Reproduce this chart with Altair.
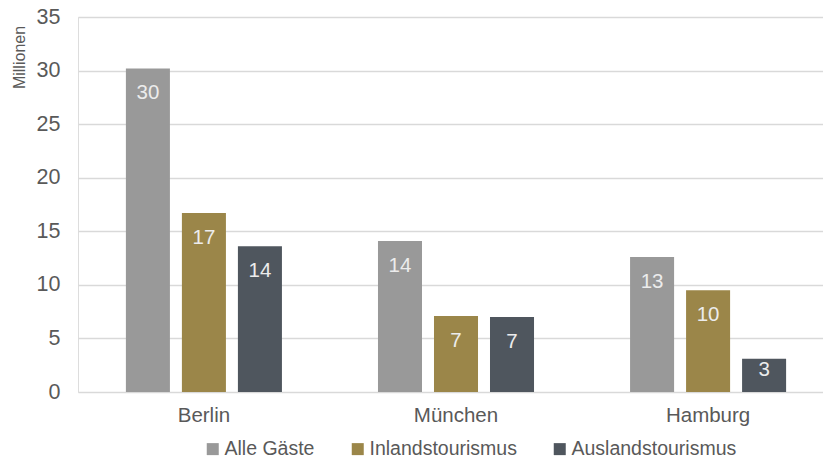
import altair as alt
import pandas as pd

cities = ["Berlin", "München", "Hamburg"]
series = ["Alle Gäste", "Inlandstourismus", "Auslandstourismus"]
alle_gaeste = [30.2, 14.1, 12.6]
inland = [16.7, 7.1, 9.5]
ausland = [13.6, 7.0, 3.1]
colors = ["#999999", "#9b8649", "#4f565e"]
y_ticks = [0, 5, 10, 15, 20, 25, 30, 35]

rows = []
for i, c in enumerate(cities):
    for s, vals in zip(series, [alle_gaeste, inland, ausland]):
        rows.append({"Stadt": c, "Serie": s, "Wert": vals[i]})
df = pd.DataFrame(rows)

FONT = "Liberation Sans"
TXT = "#595959"

x = alt.X("Stadt:N", sort=cities,
          scale=alt.Scale(range=[0, 756], paddingInner=0.381, paddingOuter=0.19),
          axis=alt.Axis(title=None, labelAngle=0, domain=False, ticks=False,
                        labelPadding=13, labelFontSize=20.5, labelColor=TXT, labelFont=FONT))
xo = alt.XOffset("Serie:N", sort=series,
                 scale=alt.Scale(paddingInner=0.214, paddingOuter=0))

bars = alt.Chart(df).mark_bar().encode(
    x=x,
    xOffset=xo,
    y=alt.Y("Wert:Q", scale=alt.Scale(domain=[0, 35], nice=False),
            axis=alt.Axis(values=y_ticks, title="Millionen", domain=False, ticks=False,
                          labelPadding=18, labelFontSize=21.5, labelColor=TXT, labelFont=FONT,
                          gridColor="#d9d9d9", gridWidth=1.5,
                          titleFontSize=16, titleFont=FONT, titleColor=TXT,
                          titleFontWeight="normal", titleAngle=-90,
                          titleX=-59, titleY=40, titleAlign="center", titleBaseline="middle")),
    color=alt.Color("Serie:N", sort=series,
                    scale=alt.Scale(domain=series, range=colors),
                    legend=alt.Legend(title=None, orient="none", direction="horizontal",
                                      legendX=125, legendY=422,
                                      symbolType="square", symbolSize=144,
                                      symbolStrokeWidth=0, symbolOpacity=1,
                                      labelFontSize=19.5, labelFont=FONT, labelColor=TXT,
                                      labelLimit=0, labelOffset=2, columnPadding=33)),
)

labels = alt.Chart(df).transform_calculate(
    lp="datum.Wert > 5 ? datum.Wert - 2.33 : datum.Wert * 0.66"
).mark_text(fontSize=20.5, font=FONT, color="#ececec", baseline="middle").encode(
    x=alt.X("Stadt:N", sort=cities),
    xOffset=alt.XOffset("Serie:N", sort=series),
    y=alt.Y("lp:Q"),
    text=alt.Text("Wert:Q", format=".0f"),
)

chart = alt.layer(bars, labels).properties(
    width=745, height=375,
    autosize=alt.AutoSizeParams(type="none"),
    padding={"left": 78, "top": 17, "right": 0, "bottom": 67},
).configure_view(stroke=None).configure(background="white")

chart.save("out.html", embed_options={"renderer": "svg", "actions": False})
